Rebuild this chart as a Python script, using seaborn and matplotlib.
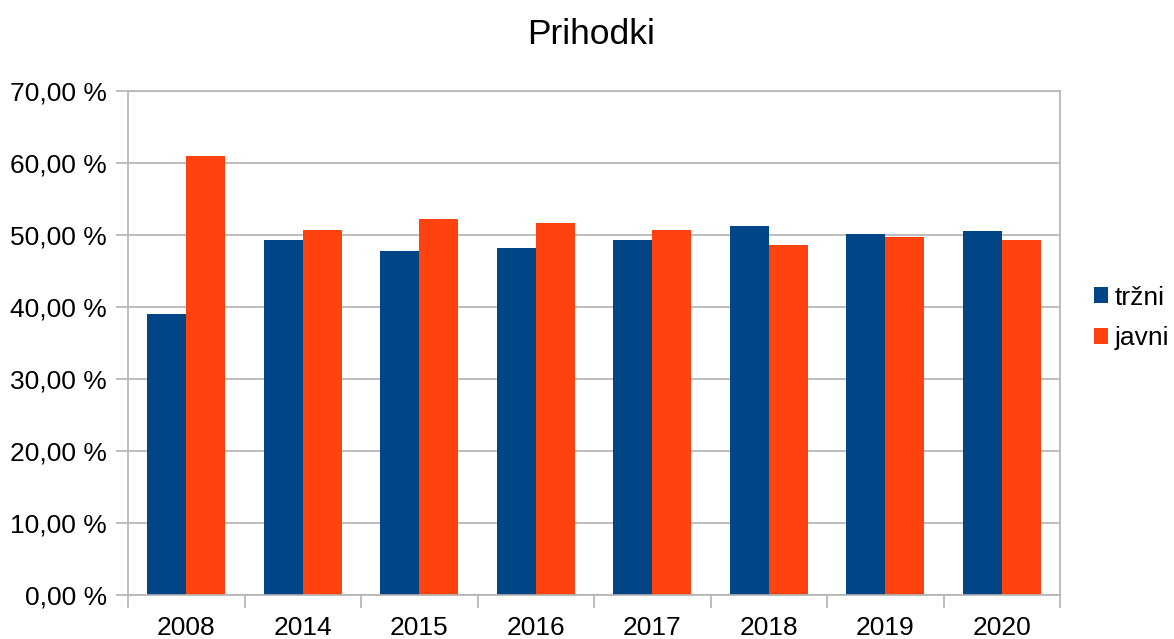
import matplotlib
matplotlib.use("Agg")
import matplotlib.pyplot as plt
import seaborn as sns
import pandas as pd
from matplotlib.ticker import FuncFormatter, FixedLocator

years = ["2008", "2014", "2015", "2016", "2017", "2018", "2019", "2020"]
trzni = [39.0, 49.3, 47.8, 48.2, 49.3, 51.2, 50.2, 50.5]
javni = [61.0, 50.7, 52.2, 51.6, 50.7, 48.6, 49.7, 49.3]
series = ["tržni", "javni"]
colors = ["#004586", "#ff420e"]
title = "Prihodki"

df = pd.DataFrame({
    "leto": years * 2,
    "vrednost": trzni + javni,
    "serija": [series[0]] * len(years) + [series[1]] * len(years),
})

sns.set_theme(style="white")
plt.rcParams["font.family"] = ["Liberation Sans", "DejaVu Sans"]
plt.rcParams["text.color"] = "black"

fs = 19

fig = plt.figure(figsize=(11.74, 6.39), dpi=100)
ax = fig.add_axes([128 / 1174, 1 - 595 / 639, 932 / 1174, 504 / 639])

sns.barplot(data=df, x="leto", y="vrednost", hue="serija", order=years,
            hue_order=series, palette=colors, width=0.67, saturation=1,
            ax=ax, legend=True, linewidth=0)

ax.set_xlim(-0.5, len(years) - 0.5)
ax.set_ylim(0, 70)
ax.set_yticks(range(0, 71, 10))
ax.yaxis.set_major_formatter(FuncFormatter(lambda v, p: f"{v:.2f}".replace(".", ",") + " %"))
ax.grid(axis="y", color="#b3b3b3", linewidth=1.2)
ax.set_axisbelow(True)
ax.set_xlabel("")
ax.set_ylabel("")

for s in ax.spines.values():
    s.set_color("#b3b3b3")
    s.set_linewidth(1.2)

ax.xaxis.set_minor_locator(FixedLocator([i - 0.5 for i in range(len(years) + 1)]))
ax.tick_params(axis="x", which="major", length=0, pad=15, labelsize=fs, colors="black")
ax.tick_params(axis="x", which="minor", length=9, width=1.2, color="#b3b3b3", bottom=True)
ax.tick_params(axis="y", which="major", length=9, width=1.2, color="#b3b3b3", left=True,
               pad=6, labelsize=fs, labelcolor="black")

fig.text(591 / 1174, 1 - 34 / 639, title, ha="center", va="center", fontsize=25.5,
         color="black")

leg = ax.legend(loc="center left", bbox_to_anchor=(1.036, 0.55), frameon=False,
                fontsize=fs, handlelength=0.55, handleheight=0.55,
                handletextpad=0.25, labelspacing=0.62, borderaxespad=0, borderpad=0)
for t in leg.get_texts():
    t.set_color("black")

fig.savefig("out.png", dpi=100)
